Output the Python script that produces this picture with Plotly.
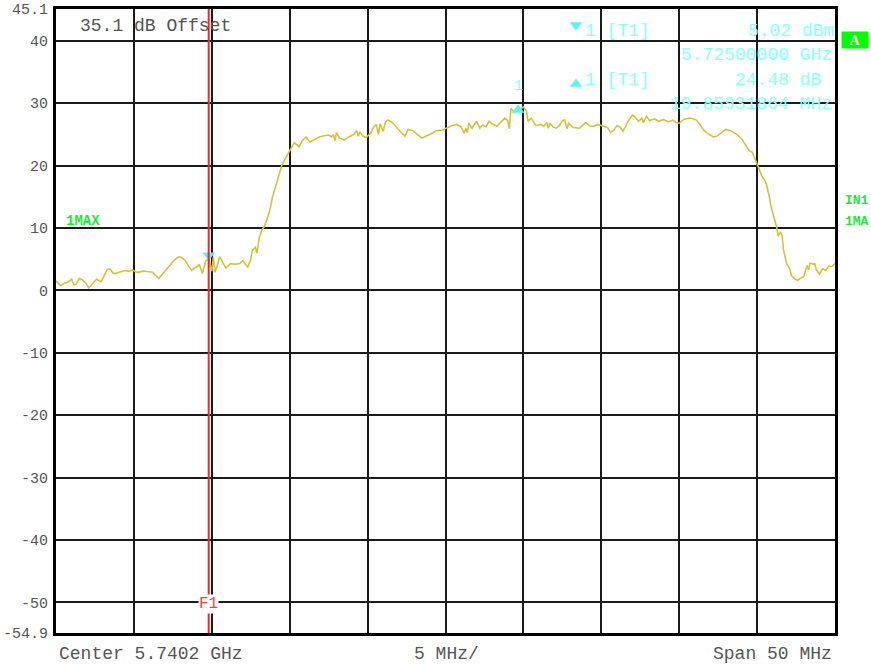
import plotly.graph_objects as go

# ---- data ----
freq_mhz = [
    5715.2, 5715.5, 5715.8, 5716.0, 5716.2, 5716.35, 5716.5, 5716.7, 5716.9, 5717.1,
    5717.3, 5717.5, 5717.8, 5718.1, 5718.3, 5718.5, 5718.7, 5718.85, 5719.0, 5719.3,
    5719.6, 5719.9, 5720.1, 5720.3, 5720.5, 5720.8, 5721.1, 5721.4, 5721.6, 5721.8,
    5722.0, 5722.25, 5722.5, 5722.7, 5722.9, 5723.1, 5723.3, 5723.5, 5723.7, 5723.9,
    5724.1, 5724.4, 5724.6, 5724.8, 5725.0, 5725.1, 5725.2, 5725.3, 5725.4, 5725.55,
    5725.7, 5725.9, 5726.1, 5726.4, 5726.7, 5727.0, 5727.2, 5727.35, 5727.5, 5727.7,
    5727.8, 5728.0, 5728.1, 5728.25, 5728.4, 5728.6, 5728.9, 5729.1, 5729.4, 5729.7,
    5730.0, 5730.2, 5730.5, 5730.8, 5731.0, 5731.25, 5731.5, 5731.8, 5732.1, 5732.4,
    5732.7, 5732.9, 5733.0, 5733.1, 5733.2, 5733.4, 5733.7, 5734.0, 5734.3, 5734.5,
    5734.6, 5734.7, 5734.9, 5735.1, 5735.4, 5735.6, 5735.75, 5735.9, 5736.0, 5736.2,
    5736.35, 5736.5, 5736.8, 5737.1, 5737.4, 5737.6, 5737.8, 5738.1, 5738.4, 5738.7,
    5739.0, 5739.3, 5739.6, 5740.0, 5740.25, 5740.6, 5740.9, 5741.2, 5741.4, 5741.5,
    5741.6, 5741.7, 5741.9, 5742.2, 5742.4, 5742.6, 5742.8, 5743.0, 5743.2, 5743.5,
    5743.7, 5744.0, 5744.2, 5744.3, 5744.4, 5744.6, 5744.86, 5745.0, 5745.2, 5745.4,
    5745.5, 5745.7, 5746.0, 5746.3, 5746.5, 5746.7, 5746.8, 5746.9, 5747.1, 5747.3,
    5747.5, 5747.7, 5747.85, 5748.0, 5748.1, 5748.4, 5748.8, 5749.0, 5749.2, 5749.5,
    5749.7, 5750.0, 5750.3, 5750.6, 5750.8, 5751.0, 5751.2, 5751.4, 5751.6, 5751.9,
    5752.2, 5752.4, 5752.6, 5752.8, 5752.9, 5753.1, 5753.3, 5753.6, 5753.9, 5754.2,
    5754.5, 5754.8, 5755.0, 5755.2, 5755.5, 5755.8, 5756.0, 5756.3, 5756.5, 5756.8,
    5757.0, 5757.2, 5757.4, 5757.6, 5757.9, 5758.2, 5758.5, 5758.9, 5759.2, 5759.4,
    5759.6, 5759.7, 5759.9, 5760.1, 5760.3, 5760.5, 5760.7, 5760.8, 5761.0, 5761.1,
    5761.3, 5761.45, 5761.55, 5761.7, 5761.8, 5761.9, 5762.1, 5762.3, 5762.4, 5762.6,
    5762.8, 5763.0, 5763.2, 5763.4, 5763.5, 5763.6, 5763.8, 5763.9, 5764.0, 5764.2,
    5764.4, 5764.6, 5764.8, 5765.0, 5765.2,
]
level_dbm = [
    1.5, 0.8, 1.2, 1.4, 1.8, 0.9, 1.0, 1.9, 1.7, 1.2,
    0.4, 0.9, 1.8, 1.4, 2.3, 3.4, 3.4, 2.8, 2.7, 3.0,
    3.2, 3.1, 3.3, 3.0, 2.9, 3.1, 3.0, 2.9, 2.4, 1.9,
    2.5, 3.3, 4.0, 4.6, 5.1, 5.4, 5.2, 4.8, 3.9, 3.2,
    3.6, 4.1, 2.7, 4.7, 5.02, 4.2, 3.1, 5.3, 2.9, 4.0,
    5.4, 4.5, 3.6, 4.3, 4.2, 4.3, 4.8, 4.2, 3.7, 5.0,
    6.4, 6.9, 6.0, 8.5, 9.6, 10.4, 12.6, 15.0, 17.5, 20.1,
    21.5, 22.3, 23.7, 23.0, 24.0, 24.6, 23.8, 24.2, 24.6, 24.8,
    24.9, 24.6, 25.0, 24.0, 25.3, 24.4, 24.1, 24.6, 25.0, 25.6,
    24.7, 25.4, 24.7, 24.5, 25.2, 26.2, 26.6, 25.0, 26.7, 25.5,
    27.0, 27.3, 26.9, 26.0, 25.2, 24.7, 25.8, 25.6, 25.0, 24.4,
    24.8, 25.1, 25.6, 25.7, 26.0, 26.4, 26.6, 26.2, 25.2, 26.0,
    25.3, 26.8, 26.0, 27.1, 26.0, 26.5, 26.2, 27.1, 26.7, 26.3,
    26.8, 27.6, 27.2, 25.9, 29.2, 28.6, 29.5, 29.0, 29.4, 28.7,
    27.1, 27.6, 26.4, 26.6, 26.3, 26.9, 26.0, 26.8, 26.2, 26.0,
    26.4, 27.2, 27.3, 25.9, 26.8, 26.1, 26.0, 26.5, 26.9, 26.3,
    26.3, 26.6, 26.3, 26.1, 25.3, 25.7, 26.4, 26.2, 25.5, 27.0,
    28.1, 27.7, 27.1, 27.6, 26.9, 27.9, 27.2, 27.5, 27.1, 27.4,
    27.0, 27.3, 26.9, 26.8, 27.4, 27.6, 27.6, 27.3, 26.7, 25.6,
    25.2, 24.9, 24.6, 24.7, 25.3, 25.8, 25.6, 25.0, 24.3, 23.6,
    22.7, 22.4, 22.1, 20.9, 19.8, 18.4, 17.6, 17.0, 14.8, 13.4,
    11.5, 10.2, 8.7, 9.4, 8.8, 6.4, 4.3, 3.4, 2.4, 1.9,
    1.6, 2.0, 2.2, 4.0, 3.3, 4.4, 4.2, 4.3, 3.3, 2.6,
    3.5, 3.2, 3.9, 3.8, 4.3,
]

start_mhz = 5715.2
stop_mhz = 5765.2
div_mhz = 5
ref_top = 45.1
ref_bottom = -54.9
ytick_vals = [45.1, 40, 30, 20, 10, 0, -10, -20, -30, -40, -50, -54.9]
ytick_text = ["45.1", "40", "30", "20", "10", "0", "-10", "-20", "-30", "-40", "-50", "-54.9"]

marker1_freq = 5725.0
marker1_level = 5.02
delta_freq = 5744.86
delta_level = 29.5
f1_freq = 5725.0

MONO = "Liberation Mono, Courier New, monospace"
CYAN_TXT = "#8affff"
CYAN_MK = "#5ef2f7"
GREEN = "#1ee83a"

# plot area in page pixels
L, R, T, B = 56, 835, 9, 633
def px(xp):
    return (xp - L) / (R - L)
def py(yp):
    return (B - yp) / (B - T)

fig = go.Figure()
fig.add_trace(go.Scatter(
    x=freq_mhz, y=level_dbm, mode="lines",
    line=dict(color="#d5c13c", width=1.6), hoverinfo="skip", showlegend=False,
))
fig.add_trace(go.Scatter(
    x=[marker1_freq], y=[marker1_level + 0.6], mode="markers",
    marker=dict(symbol="triangle-down", size=11, color=CYAN_MK, line=dict(width=0)),
    showlegend=False, hoverinfo="skip",
))
fig.add_trace(go.Scatter(
    x=[delta_freq], y=[delta_level - 0.6], mode="markers",
    marker=dict(symbol="triangle-up", size=11, color=CYAN_MK, line=dict(width=0)),
    showlegend=False, hoverinfo="skip",
))
# marker symbols in the marker table
fig.add_trace(go.Scatter(
    x=[px(576), px(576)], y=[py(25), py(84)], xaxis="x2", yaxis="y2",
    mode="markers",
    marker=dict(symbol=["triangle-down", "triangle-up"], size=11, color=CYAN_MK),
    showlegend=False, hoverinfo="skip", cliponaxis=False,
))

fig.add_shape(type="line", xref="x", yref="paper", x0=f1_freq, x1=f1_freq, y0=0, y1=1,
              line=dict(color="#ff2020", width=2), layer="above")

ann = []
def txt(x, y, text, color="#555555", size=18, xanchor="left", yanchor="middle",
        xref="paper", yref="paper", bold=False, bg=None, **kw):
    d = dict(x=x, y=y, text=("<b>%s</b>" % text) if bold else text, showarrow=False,
             xref=xref, yref=yref, xanchor=xanchor, yanchor=yanchor,
             font=dict(family=MONO, size=size, color=color))
    if bg:
        d["bgcolor"] = bg
    d.update(kw)
    ann.append(d)

txt(px(78), py(26), "35.1 dB Offset", color="#555555", size=18)
txt(px(57), py(654), "Center 5.7402 GHz", size=18)
txt(px(446), py(654), "5 MHz/", size=18, xanchor="center")
txt(px(834), py(654), "Span 50 MHz", size=18, xanchor="right")

# marker table
txt(px(583), py(31), "1 [T1]", color=CYAN_TXT, size=18)
txt(px(836), py(31), "5.02 dBm", color=CYAN_TXT, size=18, xanchor="right")
txt(px(834), py(55), "5.72500000 GHz", color=CYAN_TXT, size=18, xanchor="right")
txt(px(583), py(80), "1 [T1]", color=CYAN_TXT, size=18)
txt(px(834), py(80), "24.48 dB ", color=CYAN_TXT, size=18, xanchor="right")
txt(px(834), py(104), "19.85931864 MHz", color=CYAN_TXT, size=18, xanchor="right")

# delta marker label
txt(delta_freq, delta_level, "1", color=CYAN_TXT, size=15, xanchor="center",
    xref="x", yref="y", yshift=20)

# F1 label with gap in red line
txt(f1_freq, py(604), "F1", color="#ff4040", size=16, xanchor="center", xref="x",
    bg="white", borderpad=0)

# green labels
txt(px(64), py(221), "1MAX", color=GREEN, size=14, bold=True)
txt(px(843), py(200), "IN1", color=GREEN, size=13, bold=True)
txt(px(843), py(221), "1MA", color=GREEN, size=13, bold=True)
ann.append(dict(x=px(841), y=py(39.5), xref="paper", yref="paper", showarrow=False,
                xanchor="left", yanchor="middle", text="<b>A</b>", bgcolor="#00ff00",
                font=dict(family="Liberation Serif, serif", size=14, color="white"),
                width=26, height=16, borderpad=0))

fig.update_layout(
    width=871, height=664,
    margin=dict(l=L, r=871 - R, t=T, b=664 - B, autoexpand=False),
    paper_bgcolor="white", plot_bgcolor="white",
    annotations=ann, showlegend=False,
    xaxis=dict(range=[start_mhz, stop_mhz], tick0=start_mhz, dtick=div_mhz,
               showticklabels=False, ticks="", showgrid=True, gridcolor="#1a1a1a",
               gridwidth=1.6, zeroline=False, showline=True, linecolor="black",
               linewidth=3, mirror=True, fixedrange=True, automargin=False),
    yaxis=dict(range=[ref_bottom, ref_top], tickmode="array", tickvals=ytick_vals,
               ticktext=ytick_text, ticks="", showgrid=True, gridcolor="#1a1a1a",
               gridwidth=1.6, zeroline=False, showline=True, linecolor="black",
               linewidth=3, mirror=True, ticklabelstandoff=2, automargin=False,
               tickfont=dict(family=MONO, size=15, color="#555555"), fixedrange=True),
    xaxis2=dict(range=[0, 1], domain=[0, 1], overlaying="x", visible=False,
                fixedrange=True, automargin=False),
    yaxis2=dict(range=[0, 1], domain=[0, 1], overlaying="y", visible=False,
                fixedrange=True, automargin=False),
)

fig.write_html(
    "out.html",
    config={"displayModeBar": False},
    post_script="document.body.style.margin='0';document.body.style.padding='0';document.documentElement.style.overflow='hidden';",
)
